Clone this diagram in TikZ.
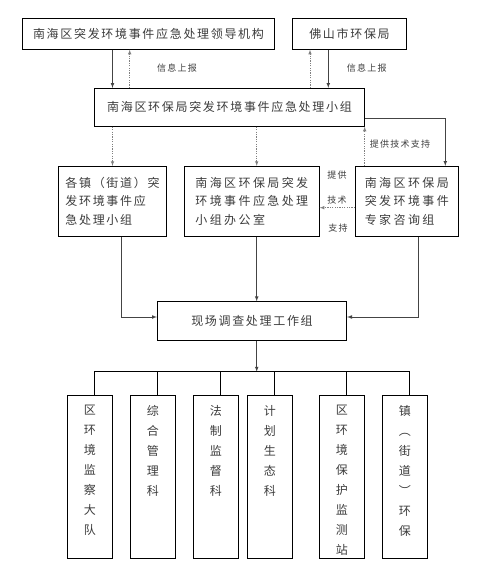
\documentclass[tikz,border=0pt]{standalone}
\usepackage{fontspec}
\newfontfamily\cjk[LetterSpace=14]{Noto Sans CJK SC}
\newfontfamily\cjkwide[LetterSpace=20]{Noto Sans CJK SC}
\newfontfamily\cjkplain{Noto Sans CJK SC}
\usetikzlibrary{calc}
\definecolor{txtgray}{HTML}{3C3C3C}
\definecolor{linegray}{HTML}{444444}
\definecolor{dotgray}{HTML}{808080}

\begin{document}
\begin{tikzpicture}[x=1pt,y=-1pt,
  box/.style={draw=black, line width=0.8pt, text=txtgray, align=left, inner sep=0pt,
    font=\cjk\fontsize{12}{18.5}\selectfont},
  widebox/.style={box, font=\cjkwide\fontsize{12}{18.5}\selectfont},
  dept/.style={draw=black, line width=0.8pt, minimum width=45pt, minimum height=163pt, inner sep=0pt},
  dtext/.style={anchor=north, text=txtgray, align=center, inner sep=0pt,
    font=\cjkplain\fontsize{12}{20}\selectfont},
  note/.style={text=txtgray, inner sep=0pt, font=\cjk\fontsize{9}{12}\selectfont},
  arr/.style={draw=linegray, line width=0.7pt, ->, >=latex},
  info/.style={draw=dotgray, line width=0.6pt, dash pattern=on 1.2pt off 1.2pt, ->, >=latex},
  line/.style={draw=black, line width=0.7pt}]

\useasboundingbox (0,0) rectangle (496,576);

% top row
\node[box, minimum width=251.6pt, minimum height=31pt] (lead) at (148.5,33.8) {南海区突发环境事件应急处理领导机构};
\node[box, minimum width=113.6pt, minimum height=31pt] (foshan) at (349.5,33.8) {佛山市环保局};

\node[box, minimum width=269.6pt, minimum height=38pt] (group) at (229.5,107.3) {南海区环保局突发环境事件应急处理小组};

% second row
\node[box, minimum width=107.6pt, minimum height=70pt] (town) at (112.5,201.3) {各镇（街道）突\\发环境事件应\\急处理小组};
\node[widebox, minimum width=135pt, minimum height=70pt] (office) at (251.8,201.3) {南海区环保局突发\\环境事件应急处理\\小组办公室};
\node[widebox, minimum width=103pt, minimum height=70pt] (expert) at (406.8,201.3) {南海区环保局\\突发环境事件\\专家咨询组};

\node[box, minimum width=189.4pt, minimum height=38.6pt] (site) at (252,321) {现场调查处理工作组};

% departments
\node[dept] (d1) at (89.8,476.8) {};
\node[dept] (d2) at (152.8,476.8) {};
\node[dept] (d3) at (215.8,476.8) {};
\node[dept] (d4) at (269.8,476.8) {};
\node[dept] (d5) at (341.8,476.8) {};
\node[dept] (d6) at (404.8,476.8) {};
\node[dtext] (t1) at ([yshift=-10pt]d1.north) {区\\环\\境\\监\\察\\大\\队};
\node[dtext] (t2) at ([yshift=-10pt]d2.north) {综\\合\\管\\理\\科};
\node[dtext] (t3) at ([yshift=-10pt]d3.north) {法\\制\\监\\督\\科};
\node[dtext] (t4) at ([yshift=-10pt]d4.north) {计\\划\\生\\态\\科};
\node[dtext] (t5) at ([yshift=-10pt]d5.north) {区\\环\\境\\保\\护\\监\\测\\站};
\node[dtext] (t6) at ([yshift=-10pt]d6.north) {镇\\︵\\街\\道\\︶\\环\\保};

% columns
\coordinate (c1) at (129.7,0);
\coordinate (c2) at (310,0);
\coordinate (c3) at (328.3,0);
\coordinate (c4) at (256.7,0);
\coordinate (c5) at (445.3,0);
\coordinate (c6) at (121.3,0);
\coordinate (c7) at (418.3,0);
\coordinate (bus) at (256.7,371.7);

% reporting lines
\draw[arr] (lead.south -| town) -- (group.north -| town);
\draw[info] (group.north -| c1) -- (lead.south -| c1);
\draw[info] (group.north -| c2) -- (foshan.south -| c2);
\draw[arr] (foshan.south -| c3) -- (group.north -| c3);
\node[note] (n1) at (177,67.7) {信息上报};
\node[note] (n2) at (366.7,67.7) {信息上报};

\draw[info] (group.south -| town) -- (town.north);
\draw[info] (group.south -| c4) -- (office.north -| c4);
\draw[arr] ([yshift=-10.7pt]group.east) -| (expert.north -| c5);
\draw[info] (expert.north -| group.east) -- (group.south east);
\node[note] (n3) at (400,144) {提供技术支持};

\draw[info] ([yshift=-6.4pt]expert.west) -- ([yshift=-6.4pt]office.east);
\node[note] (n4) at (337,175) {提供};
\node[note] (n5) at (337,200) {技术};
\node[note] (n6) at (338,228) {支持};

% to the site group
\draw[arr] (town.south -| c6) |- ([yshift=4pt]site.west);
\draw[arr] (office.south -| c4) -- (site.north -| c4);
\draw[arr] (expert.south -| c7) |- ([yshift=4pt]site.east);

\draw[arr] (site.south -| c4) -- (bus);
\foreach \n in {1,...,6}
  \draw[line] ($(d\n.north)+(4.5,0)$) |- (bus);

\end{tikzpicture}
\end{document}
